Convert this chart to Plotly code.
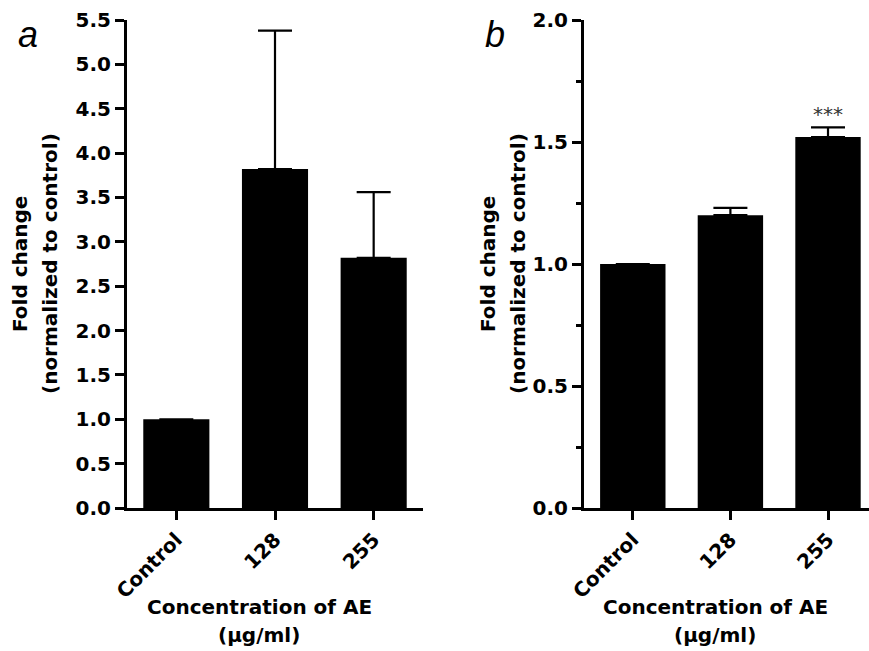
import plotly.graph_objects as go

categories = ["Control", "128", "255"]
a_means = [1.0, 3.82, 2.82]
a_err = [0.0, 1.56, 0.74]
b_means = [1.0, 1.20, 1.52]
b_err = [0.0, 0.03, 0.04]
a_ticks = [0.0, 0.5, 1.0, 1.5, 2.0, 2.5, 3.0, 3.5, 4.0, 4.5, 5.0, 5.5]
b_ticks = [0.0, 0.5, 1.0, 1.5, 2.0]

W, H = 869, 651
FONT = "DejaVu Sans"

fig = go.Figure()

def bar(x, y, err, xa, ya):
    return go.Bar(
        x=list(range(len(x))), y=y, width=0.67,
        marker=dict(color="black", line=dict(width=0)),
        error_y=dict(type="data", symmetric=False, array=err,
                     arrayminus=[0] * len(err), color="black",
                     thickness=2.2, width=17),
        xaxis=xa, yaxis=ya, showlegend=False,
    )

fig.add_trace(bar(categories, a_means, a_err, "x", "y"))
fig.add_trace(bar(categories, b_means, b_err, "x2", "y2"))

ydom = [1 - 508 / H, 1 - 20 / H]
axis_common = dict(
    showline=True, linecolor="black", linewidth=3, showgrid=False,
    zeroline=False, ticks="outside", ticklen=9, tickwidth=2.5,
    tickcolor="black", automargin=False,
)
tickfont = dict(family=FONT, size=20, color="black", weight="bold")

fig.update_layout(
    width=W, height=H,
    margin=dict(l=0, r=0, t=0, b=0),
    paper_bgcolor="white", plot_bgcolor="white",
    xaxis=dict(domain=[127 / W, 423 / W], range=[-0.5, 2.5],
               tickvals=[0, 1, 2], ticktext=categories, tickangle=-45,
               tickfont=tickfont, anchor="y", **axis_common),
    yaxis=dict(domain=ydom, range=[0, 5.5], tickvals=a_ticks,
               ticktext=[f"{v:.1f}" for v in a_ticks],
               tickfont=tickfont, anchor="x", **axis_common),
    xaxis2=dict(domain=[584 / W, 1.0], range=[-0.5, 2.42],
                tickvals=[0, 1, 2], ticktext=categories, tickangle=-45,
                tickfont=tickfont, anchor="y2", **axis_common),
    yaxis2=dict(domain=ydom, range=[0, 2.0], tickvals=b_ticks,
                ticktext=[f"{v:.1f}" for v in b_ticks],
                tickfont=tickfont, anchor="x2",
                minor=dict(tickvals=[0.25, 0.75, 1.25, 1.75], ticks="outside",
                           ticklen=5, tickwidth=2.5, tickcolor="black"),
                **axis_common),
)

title_font = dict(family=FONT, size=20, color="black", weight="bold")
ymid = 1 - 264 / H

anns = [
    dict(x=20 / W, y=ymid, text="Fold change", textangle=-90),
    dict(x=50 / W, y=ymid, text="(normalized to control)", textangle=-90),
    dict(x=488 / W, y=ymid, text="Fold change", textangle=-90),
    dict(x=518 / W, y=ymid, text="(normalized to control)", textangle=-90),
    dict(x=259 / W, y=1 - 607 / H, text="Concentration of AE"),
    dict(x=259 / W, y=1 - 635 / H, text="(µg/ml)"),
    dict(x=715 / W, y=1 - 607 / H, text="Concentration of AE"),
    dict(x=715 / W, y=1 - 635 / H, text="(µg/ml)"),
]
for a in anns:
    fig.add_annotation(xref="paper", yref="paper", xanchor="center",
                       yanchor="middle", showarrow=False, font=title_font, **a)

letter_font = dict(family="Liberation Sans", size=36, color="black")
fig.add_annotation(xref="paper", yref="paper", x=28 / W, y=1 - 34 / H,
                   text="<i>a</i>", showarrow=False, xanchor="center",
                   yanchor="middle", font=letter_font)
fig.add_annotation(xref="paper", yref="paper", x=495 / W, y=1 - 34 / H,
                   text="<i>b</i>", showarrow=False, xanchor="center",
                   yanchor="middle", font=letter_font)

fig.add_annotation(xref="x2", yref="y2", x=2, y=1.615, text="***",
                   showarrow=False, xanchor="center", yanchor="middle",
                   font=dict(family=FONT, size=20, color="#333333"))

fig.write_html("out.html", config={"displayModeBar": False},
               post_script="document.body.style.margin='0';document.body.style.overflow='hidden';")
